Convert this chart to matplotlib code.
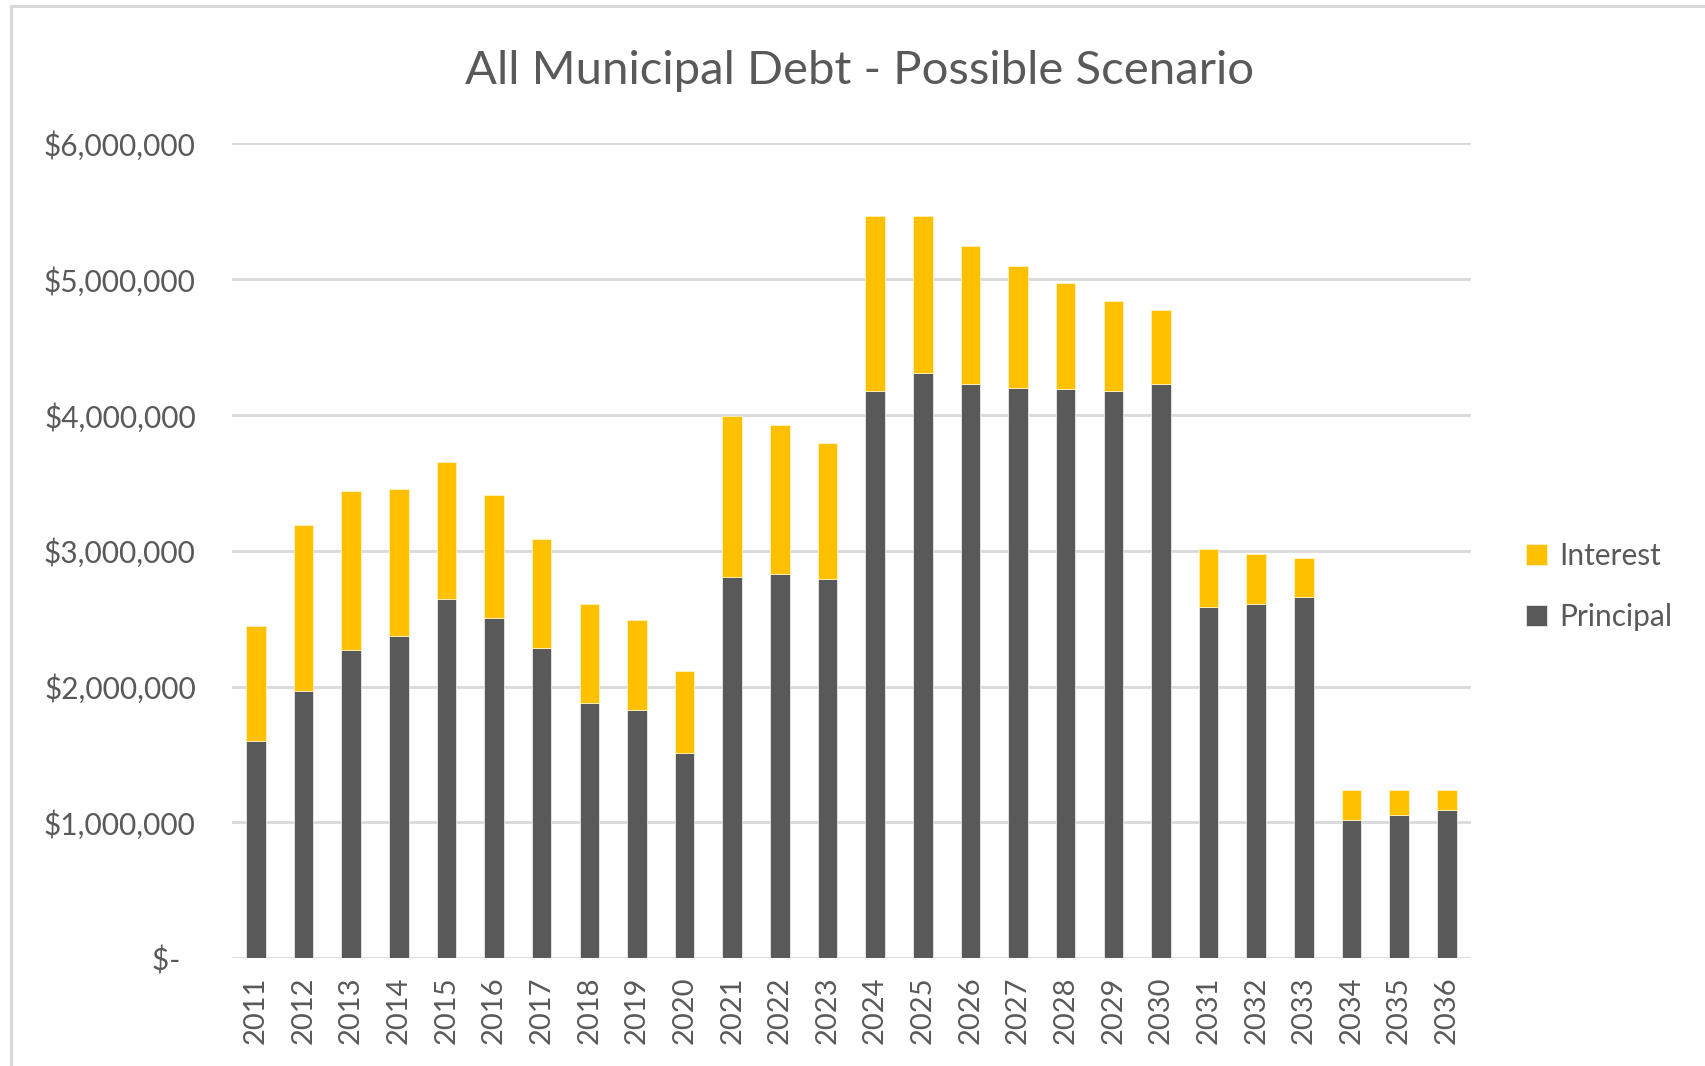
import matplotlib
matplotlib.use("Agg")
import matplotlib.pyplot as plt
from matplotlib.ticker import FuncFormatter, MultipleLocator
from matplotlib.patches import Rectangle
import numpy as np

years = [str(y) for y in range(2011, 2037)]
principal = [1602000, 1969000, 2270000, 2374000, 2648000, 2504000, 2283000, 1878000,
             1826000, 1512000, 2805000, 2830000, 2792000, 4175000, 4307000, 4228000,
             4202000, 4190000, 4175000, 4228000, 2586000, 2610000, 2662000, 1015000,
             1058000, 1095000]
total = [2450000, 3193000, 3443000, 3455000, 3652000, 3414000, 3090000, 2609000,
         2490000, 2112000, 3992000, 3925000, 3795000, 5468000, 5468000, 5243000,
         5100000, 4968000, 4838000, 4774000, 3012000, 2973000, 2949000, 1236000,
         1236000, 1236000]
interest = [t - p for t, p in zip(total, principal)]

TXT = "#595959"
GRID = "#D9D9D9"
C_PRIN = "#595959"
C_INT = "#FFC000"
FONT = ["Lato", "DejaVu Sans"]
plt.rcParams["font.family"] = FONT

fig = plt.figure(figsize=(17.06, 10.66), dpi=100)
ax = fig.add_axes([0.136, 0.101, 0.862 - 0.136, 0.8656 - 0.101])

x = np.arange(len(years))
w = 0.41
ax.bar(x, principal, width=w, color=C_PRIN, edgecolor="#e8e8e8", linewidth=0.6,
       label="Principal", zorder=3)
ax.bar(x, interest, width=w, bottom=principal, color=C_INT, edgecolor="#fff2c0",
       linewidth=0.6, label="Interest", zorder=3)

ax.set_xlim(-0.5, len(years) - 0.5)
ax.set_ylim(0, 6000000)
ax.yaxis.set_major_locator(MultipleLocator(1000000))

def fmt(v, pos):
    if abs(v) < 1:
        return "$-  "
    return "${:,.0f}".format(v)

ax.yaxis.set_major_formatter(FuncFormatter(fmt))
ax.set_xticks(x)
ax.set_xticklabels(years, rotation=90)
ax.tick_params(axis="y", length=0, colors=TXT, labelsize=21.5, pad=26)
ax.tick_params(axis="x", length=0, colors=TXT, labelsize=21, pad=13)
for s in ax.spines.values():
    s.set_visible(False)
ax.grid(axis="y", color=GRID, linewidth=2, zorder=0)
ax.set_axisbelow(True)

fig.text(0.504, 0.933, "All Municipal Debt - Possible Scenario", ha="center",
         va="center", fontsize=34, color=TXT)

handles, labels = ax.get_legend_handles_labels()
leg = fig.legend(handles[::-1], labels[::-1], loc="center left",
                 bbox_to_anchor=(0.879, 0.45), frameon=False, fontsize=21.5,
                 labelcolor=TXT, handlelength=0.7, handleheight=0.7,
                 handletextpad=0.4, labelspacing=1.1)

fig.patches.append(Rectangle((11 / 1706, -0.05), 1.1, 1 - 6 / 1066 + 0.05,
                             transform=fig.transFigure, fill=False,
                             edgecolor=GRID, linewidth=2.2, zorder=0))

fig.savefig("out.png", dpi=100, facecolor="white")
